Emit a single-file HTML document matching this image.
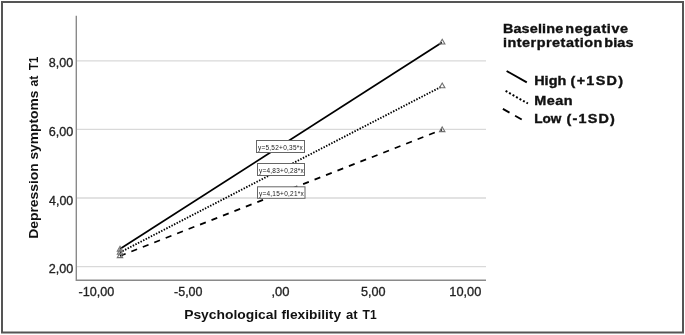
<!DOCTYPE html>
<html><head><meta charset="utf-8"><style>
html,body{margin:0;padding:0;background:#fff;width:685px;height:335px;overflow:hidden}
svg{display:block;filter:grayscale(1)}
text{font-family:"Liberation Sans",sans-serif}
</style></head><body>
<svg width="685" height="335" viewBox="0 0 685 335">
<rect x="0" y="0" width="685" height="335" fill="#fff"/>
<rect x="2" y="2" width="681" height="330.5" fill="none" stroke="#555" stroke-width="2"/>
<!-- gridlines -->
<g stroke="#d9d9d9" stroke-width="1.3">
<line x1="77" y1="60.8" x2="486" y2="60.8"/>
<line x1="77" y1="129.4" x2="486" y2="129.4"/>
<line x1="77" y1="198" x2="486" y2="198"/>
<line x1="77" y1="266.7" x2="486" y2="266.7"/>
</g>
<!-- axes -->
<polyline points="76.3,15.7 76.3,280.3 486,280.3" stroke="#8a8a8a" stroke-width="1.4" fill="none"/>
<!-- y tick labels -->
<g font-size="12" fill="#222" stroke="#222" stroke-width="0.3">
<text x="48.87" y="67.3" textLength="24.42" lengthAdjust="spacingAndGlyphs">8,00</text>
<text x="48.77" y="135.9" textLength="24.52" lengthAdjust="spacingAndGlyphs">6,00</text>
<text x="49.12" y="204.5" textLength="24.16" lengthAdjust="spacingAndGlyphs">4,00</text>
<text x="48.77" y="273.0" textLength="24.52" lengthAdjust="spacingAndGlyphs">2,00</text>
</g>
<!-- x tick labels -->
<g font-size="12" fill="#222" stroke="#222" stroke-width="0.3">
<text x="78.53" y="295.7" textLength="35.75" lengthAdjust="spacingAndGlyphs">-10,00</text>
<text x="174.04" y="295.7" textLength="28.45" lengthAdjust="spacingAndGlyphs">-5,00</text>
<text x="271.43" y="295.7" textLength="18.06" lengthAdjust="spacingAndGlyphs">,00</text>
<text x="360.99" y="295.7" textLength="24.60" lengthAdjust="spacingAndGlyphs">5,00</text>
<text x="449.34" y="295.7" textLength="32.04" lengthAdjust="spacingAndGlyphs">10,00</text>
</g>
<!-- axis titles -->
<g font-size="13.2" font-weight="bold" fill="#111">
<text x="184.16" y="318.6" textLength="93.2" lengthAdjust="spacingAndGlyphs">Psychological</text>
<text x="281.56" y="318.6" textLength="59.54" lengthAdjust="spacingAndGlyphs">flexibility</text>
<text x="346.01" y="318.6" textLength="11.58" lengthAdjust="spacingAndGlyphs">at</text>
<text x="362.58" y="318.6" textLength="14.08" lengthAdjust="spacingAndGlyphs">T1</text>
<g transform="translate(38.1,0) rotate(-90)">
<text x="-238.74" y="0" textLength="75.49" lengthAdjust="spacingAndGlyphs">Depression</text>
<text x="-159.58" y="0" textLength="69.06" lengthAdjust="spacingAndGlyphs">symptoms</text>
<text x="-86.47" y="0" textLength="10.84" lengthAdjust="spacingAndGlyphs">at</text>
<text x="-70.11" y="0" textLength="13.35" lengthAdjust="spacingAndGlyphs">T1</text>
</g>
</g>
<!-- lines -->
<g fill="none" stroke="#000" stroke-width="1.75">
<line x1="119.9" y1="249.0" x2="441.9" y2="42.6"/>
<line x1="119.9" y1="252.5" x2="441.9" y2="86.4" stroke-width="1.85" stroke-dasharray="1.45 1.45"/>
<line x1="119.9" y1="256.0" x2="441.9" y2="129.7" stroke-dasharray="6.15 6.15"/>
</g>
<!-- markers -->
<g fill="none" stroke="#707070" stroke-width="1.1">
<path d="M442.2,39.3 L444.9,44 L439.5,44 Z"/>
<path d="M442.2,83.1 L444.9,87.8 L439.5,87.8 Z"/>
<path d="M442.2,126.9 L444.9,131.6 L439.5,131.6 Z"/>
<path d="M120,246.3 L122.7,251.1 L117.3,251.1 Z"/>
<path d="M120,249.3 L122.7,254.1 L117.3,254.1 Z"/>
<path d="M120,252.8 L122.7,257.6 L117.3,257.6 Z"/>
</g>
<!-- equation boxes -->
<g fill="#fff" stroke="#666" stroke-width="1">
<rect x="256.5" y="140.5" width="48" height="12"/>
<rect x="257.5" y="163.5" width="47" height="12"/>
<rect x="257.5" y="186.8" width="47.5" height="11.5"/>
</g>
<g font-size="8.1" fill="#1a1a1a" letter-spacing="0.33">
<text transform="translate(257.9,150) scale(0.8,1)">y=5,52+0,35*x</text>
<text transform="translate(258.9,173.2) scale(0.8,1)">y=4,83+0,28*x</text>
<text transform="translate(258.9,196.2) scale(0.8,1)">y=4,15+0,21*x</text>
</g>
<!-- legend -->
<g font-size="12" font-weight="bold" fill="#111" stroke="#111" stroke-width="0.35">
<text transform="translate(502.93,32.8) scale(1.200,1)" letter-spacing="0.121">Baseline</text>
<text transform="translate(565.26,32.8) scale(1.200,1)" letter-spacing="0.525">negative</text>
<text transform="translate(502.89,46.7) scale(1.200,1)" letter-spacing="0.427">interpretation</text>
<text transform="translate(604.26,46.7) scale(1.200,1)" letter-spacing="0.114">bias</text>
<text transform="translate(534.13,85) scale(1.200,1)" letter-spacing="0.074">High</text>
<text transform="translate(570.58,85) scale(1.200,1)" letter-spacing="1.072">(+1SD)</text>
<text transform="translate(534.13,104.6) scale(1.200,1)" letter-spacing="0.429">Mean</text>
<text transform="translate(534.18,123.3) scale(1.133,1)" letter-spacing="-0.000">Low</text>
<text transform="translate(566.48,123.3) scale(1.200,1)" letter-spacing="1.005">(-1SD)</text>
</g>
<g fill="none" stroke="#000" stroke-width="1.9">
<line x1="506.6" y1="71" x2="526.8" y2="82.3"/>
<line x1="505.6" y1="90.95" x2="527.9" y2="103.5" stroke-width="2" stroke-dasharray="2 2"/>
<line x1="502.9" y1="108.9" x2="522.2" y2="119.8" stroke-dasharray="7.6 6.4"/>
</g>
</svg>
</body></html>
